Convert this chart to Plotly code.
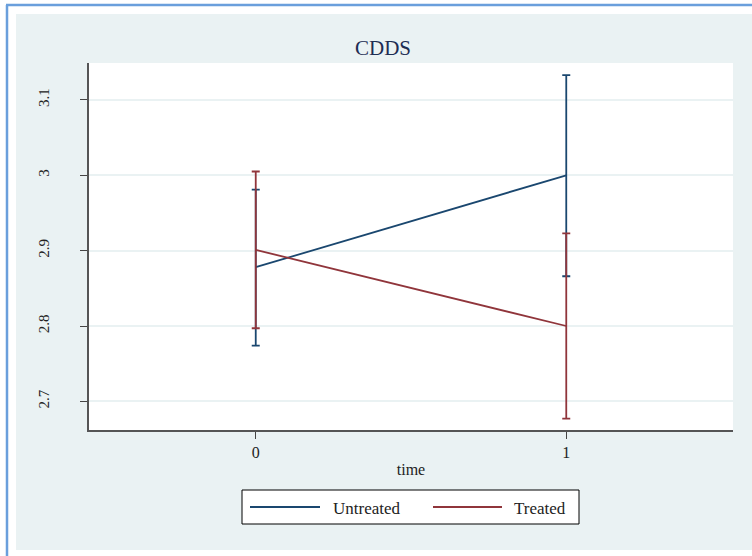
import plotly.graph_objects as go

# Mean CDDS by time with 95% confidence intervals
time = [0, 1]
groups = ["Untreated", "Treated"]
untreated_mean = [2.878, 3.000]
untreated_lo = [2.774, 2.866]
untreated_hi = [2.981, 3.133]
treated_mean = [2.901, 2.800]
treated_lo = [2.797, 2.677]
treated_hi = [3.005, 2.923]
y_ticks = [2.7, 2.8, 2.9, 3.0, 3.1]
y_tick_text = ["2.7", "2.8", "2.9", "3", "3.1"]
x_ticks = [0, 1]

colors = {"Untreated": "#1a476f", "Treated": "#90353b"}
FONT = "Liberation Serif, Times New Roman, serif"

W, H = 752, 556
L, R, T, B = 89, 19, 63, 126
PW, PH = W - L - R, H - T - B


def px(x):
    return (x - L) / PW


def py(y):
    return (H - B - y) / PH


fig = go.Figure()
for name, m, lo, hi in [
    ("Untreated", untreated_mean, untreated_lo, untreated_hi),
    ("Treated", treated_mean, treated_lo, treated_hi),
]:
    fig.add_trace(go.Scatter(
        x=time, y=m, mode="lines", name=name, showlegend=False,
        line=dict(color=colors[name], width=1.8),
        error_y=dict(type="data", symmetric=False,
                     array=[h - v for h, v in zip(hi, m)],
                     arrayminus=[v - l for l, v in zip(lo, m)],
                     color=colors[name], thickness=1.8, width=4),
    ))

shapes = [
    # outer frame and graph region
    dict(type="rect", xref="paper", yref="paper", x0=px(16), x1=px(760),
         y0=py(550), y1=py(14), fillcolor="#eaf2f3", line=dict(width=0),
         layer="below"),
    # white plot region
    dict(type="rect", xref="paper", yref="paper", x0=0, x1=1, y0=0, y1=1,
         fillcolor="white", line=dict(width=0), layer="below"),
    dict(type="line", xref="paper", yref="paper", x0=px(7), x1=px(7),
         y0=py(5), y1=py(556), line=dict(color="#6a9fdc", width=2.5)),
    dict(type="line", xref="paper", yref="paper", x0=px(6), x1=px(760),
         y0=py(5), y1=py(5), line=dict(color="#6a9fdc", width=2.5)),
    # legend box
    dict(type="rect", xref="paper", yref="paper", x0=px(242), x1=px(579),
         y0=py(524), y1=py(490), fillcolor="white",
         line=dict(color="black", width=1)),
    dict(type="line", xref="paper", yref="paper", x0=px(250), x1=px(320),
         y0=py(507), y1=py(507), line=dict(color=colors["Untreated"], width=1.8)),
    dict(type="line", xref="paper", yref="paper", x0=px(433), x1=px(502),
         y0=py(507), y1=py(507), line=dict(color=colors["Treated"], width=1.8)),
]

annotations = [
    dict(text="Untreated", xref="paper", yref="paper", x=px(331), y=py(508),
         xanchor="left", yanchor="middle", showarrow=False,
         font=dict(family=FONT, size=17, color="#222")),
    dict(text="Treated", xref="paper", yref="paper", x=px(512), y=py(508),
         xanchor="left", yanchor="middle", showarrow=False,
         font=dict(family=FONT, size=17, color="#222")),
]

fig.update_layout(
    width=W, height=H,
    margin=dict(l=L, r=R, t=T, b=B),
    paper_bgcolor="white", plot_bgcolor="white",
    title=dict(text="CDDS", x=px(383), xref="paper", xanchor="center",
               y=1 - 48 / H, yref="container", yanchor="middle",
               font=dict(family=FONT, size=21, color="#1e2d53")),
    font=dict(family=FONT, color="#222"),
    shapes=shapes, annotations=annotations,
    xaxis=dict(range=[-0.537, 1.537], tickvals=x_ticks,
               showgrid=False, zeroline=False,
               showline=True, linecolor="#555", linewidth=1.5,
               ticks="outside", ticklen=7, tickcolor="#444",
               tickfont=dict(family=FONT, size=16, color="#222"),
               title=dict(text="time", standoff=4,
                          font=dict(family=FONT, size=16, color="#222"))),
    yaxis=dict(range=[2.662, 3.149], tickvals=y_ticks, ticktext=y_tick_text,
               tickangle=-90, showgrid=True, gridcolor="#eaf2f3", gridwidth=1.5,
               zeroline=False, showline=True, linecolor="#555", linewidth=1.5,
               ticks="outside", ticklen=7, tickcolor="#444",
               ticklabelstandoff=25,
               tickfont=dict(family=FONT, size=15, color="#222")),
)

fig.write_html("out.html")
